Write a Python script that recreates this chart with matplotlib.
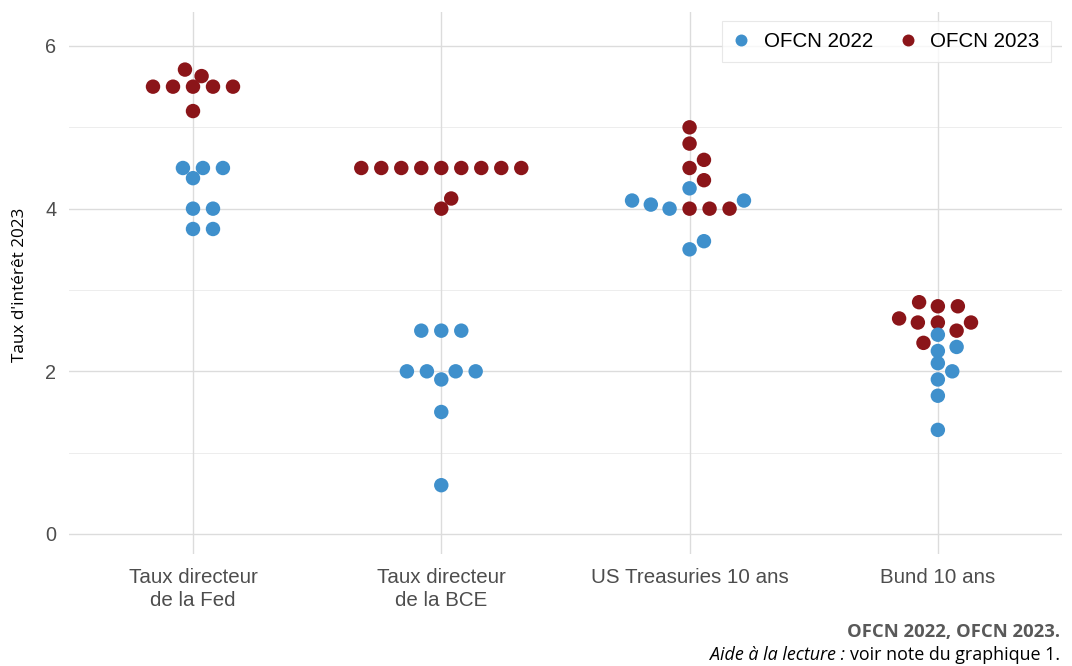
import numpy as np
import matplotlib
matplotlib.use("Agg")
import matplotlib.pyplot as plt
from matplotlib.lines import Line2D

# ---------------- DATA ----------------
categories = ["Taux directeur\nde la Fed", "Taux directeur\nde la BCE",
              "US Treasuries 10 ans", "Bund 10 ans"]
series_names = ["OFCN 2022", "OFCN 2023"]

fed_2022 = [4.5, 4.5, 4.5, 4.375, 4.0, 4.0, 3.75, 3.75]
fed_2023 = [5.5, 5.5, 5.5, 5.5, 5.5, 5.71, 5.63, 5.2]

bce_2022 = [2.5, 2.5, 2.5, 2.0, 2.0, 2.0, 2.0, 1.9, 1.5, 0.6]
bce_2023 = [4.5, 4.5, 4.5, 4.5, 4.5, 4.5, 4.5, 4.5, 4.5, 4.0, 4.125]

ust_2022 = [4.1, 4.0, 4.05, 4.25, 3.5, 3.6, 4.1]
ust_2023 = [4.0, 4.0, 4.0, 4.35, 4.5, 4.6, 4.8, 5.0]

bund_2022 = [2.45, 2.3, 2.25, 2.1, 2.0, 1.9, 1.7, 1.28]
bund_2023 = [2.85, 2.8, 2.8, 2.65, 2.6, 2.6, 2.6, 2.5, 2.35]

values_2022 = [fed_2022, bce_2022, ust_2022, bund_2022]
values_2023 = [fed_2023, bce_2023, ust_2023, bund_2023]

colors = ["#3f90cc", "#8b1519"]

# ---------------- LAYOUT ----------------
W, H = 1072, 666
fig = plt.figure(figsize=(W / 100, H / 100), dpi=100)
ax_left, ax_right, ax_top, ax_bottom = 68.85, 1062, 12, 554
ax = fig.add_axes([ax_left / W, 1 - ax_bottom / H,
                   (ax_right - ax_left) / W, (ax_bottom - ax_top) / H])
ax.set_xlim(-0.5, 3.5)
ax.set_ylim(-0.246, 6.418)

# swarm spacing: point spacing along x (category units) and along y (value units)
dx_unit = 20 / 248.3
dy_unit = 0.144


def swarm(vals):
    """beeswarm 'swarm' placement, ascending priority."""
    order = sorted(range(len(vals)), key=lambda i: vals[i])
    pos = np.zeros(len(vals))
    placed = []
    for i in order:
        v = vals[i] / dy_unit
        near = [(pv, px) for pv, px in placed if abs(v - pv) < 1]
        if near:
            pos_c = [0.0]
            neg_c = []
            for pv, px in near:
                off = np.sqrt(1 - (v - pv) ** 2)
                pos_c.append(px + off)
                neg_c.append(px - off)
            cands = pos_c + neg_c
            best, bestabs = None, np.inf
            for c in cands:
                bad = any((v - pv) ** 2 + (c - px) ** 2 < 0.999 for pv, px in near)
                if not bad and abs(c) < bestabs:
                    best, bestabs = c, abs(c)
            x = best
        else:
            x = 0.0
        pos[i] = x
        placed.append((v, x))
    return pos


for ci in range(len(categories)):
    a, b = values_2022[ci], values_2023[ci]
    recs = []
    n = max(len(a), len(b))
    for k in range(n):
        if k < len(b):
            recs.append((b[k], 1))
        if k < len(a):
            recs.append((a[k], 0))
    vals = [r[0] for r in recs]
    offs = swarm(vals)
    for s in (1, 0):
        xs = [ci + offs[j] * dx_unit for j in range(len(recs)) if recs[j][1] == s]
        ys = [recs[j][0] for j in range(len(recs)) if recs[j][1] == s]
        ax.scatter(xs, ys, s=108, color=colors[s], edgecolors="none",
                   zorder=3 if s == 1 else 4)

# grid
for y in [1, 3, 5]:
    ax.axhline(y, color="#ededed", lw=0.7, zorder=0)
for y in [0, 2, 4, 6]:
    ax.axhline(y, color="#dcdcdc", lw=1.0, zorder=0)
for x in range(len(categories)):
    ax.axvline(x, color="#dcdcdc", lw=1.0, zorder=0)

for sp in ax.spines.values():
    sp.set_visible(False)

ax.set_yticks([0, 2, 4, 6])
ax.set_yticklabels(["0", "2", "4", "6"])
ax.set_xticks(range(len(categories)))
ax.set_xticklabels(categories, linespacing=1.25)
ax.tick_params(axis="both", length=0, colors="#4d4d4d")
ax.tick_params(axis="y", pad=9, labelsize=14.3)
ax.tick_params(axis="x", pad=10, labelsize=14.8)
for lab in ax.get_xticklabels() + ax.get_yticklabels():
    lab.set_family("Liberation Sans")

fig.text(20 / W, 1 - 284.5 / H, "Taux d'intérêt 2023", rotation=90,
         ha="center", va="center", fontsize=12.3, family="Open Sans", color="black")

# legend
handles = [Line2D([], [], ls="none", marker="o", markersize=8.6,
                  markerfacecolor=colors[i], markeredgecolor="none")
           for i in range(2)]
leg = ax.legend(handles, series_names, ncol=2, loc="upper right",
                bbox_to_anchor=(1051 / W, 1 - 20.5 / H),
                bbox_transform=fig.transFigure, borderaxespad=0,
                prop={"family": "Liberation Sans", "size": 14.8},
                frameon=True, fancybox=False, handlelength=0.8,
                handletextpad=0.7, columnspacing=1.3, borderpad=0.55)
leg.get_frame().set_edgecolor("#e3e3e3")
leg.get_frame().set_linewidth(0.8)

# caption
fig.text(1060 / W, 1 - 632 / H, "OFCN 2022, OFCN 2023.", ha="right", va="center",
         fontsize=13.3, fontweight="bold", family="Open Sans", color="#595959")
t1 = fig.text(1060 / W, 1 - 655 / H, "voir note du graphique 1.", ha="right",
              va="center", fontsize=12.9, family="Open Sans", color="black")
fig.canvas.draw()
bb = t1.get_window_extent()
fig.text(bb.x0 / W, 1 - 655 / H, "Aide à la lecture : ", ha="right", va="center",
         fontsize=12.9, style="italic", family="Open Sans", color="black")

fig.savefig("out.png", dpi=100)
